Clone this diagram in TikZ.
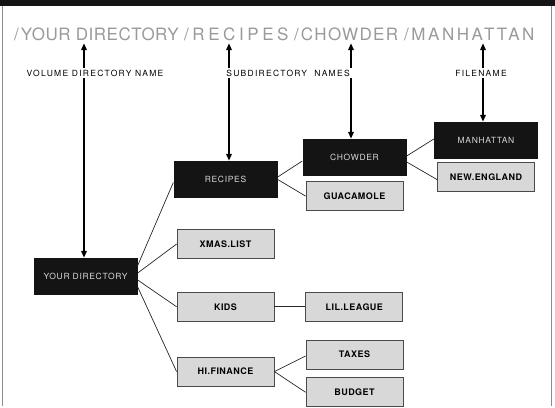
\documentclass[tikz,border=0pt]{standalone}
\usepackage{fontspec}
\setsansfont{TeX Gyre Heros}
\newfontfamily\heros{TeX Gyre Heros}
\usepackage{xcolor}
\definecolor{PanelBlack}{HTML}{141414}
\definecolor{FileGrey}{HTML}{D8D8D8}
\definecolor{EdgeGrey}{HTML}{4A4A4A}
\definecolor{TitleGrey}{HTML}{9A9A9A}
\usetikzlibrary{arrows.meta}
\usetikzlibrary{positioning}

\begin{document}
\begin{tikzpicture}[x=1pt, y=-1pt,
    font=\heros\fontsize{8.5}{10}\selectfont,
    dirbox/.style={shape=rectangle,
      fill=PanelBlack,
      text=white!85!black,
      minimum width=104pt,
      minimum height=37pt,
      inner sep=1pt,
      font=\heros\fontsize{8.5}{10}\selectfont\addfontfeature{LetterSpace=8}},
    filebox/.style={shape=rectangle,
      fill=FileGrey,
      draw=EdgeGrey,
      line width=0.8pt,
      minimum width=97pt,
      minimum height=29pt,
      inner sep=1pt,
      font=\heros\bfseries\fontsize{9}{10}\selectfont\addfontfeature{LetterSpace=5}},
    pathword/.style={anchor=base west,
      inner sep=0pt,
      text depth=0pt,
      text=TitleGrey,
      font=\heros\fontsize{17}{20}\selectfont\addfontfeature{LetterSpace=#1}},
    tag/.style={inner sep=2pt,
      text height=6pt,
      text depth=0pt,
      font=\heros\fontsize{8.5}{10}\selectfont\addfontfeature{LetterSpace=15}},
    pointer/.style={line width=1.9pt, -{Triangle[length=7pt,width=5.5pt]}},
    branch/.style={line width=0.7pt, draw=black!85}]

    % panel
    \fill[white] (0,0) rectangle (555,406);
    \fill[PanelBlack] (0,0) rectangle (555,6);
    \draw[black!45, line width=1pt] (2,6) -- (2,406);
    \draw[black!45, line width=1pt] (551,6) -- (551,406);

    % path name
    \node[name=t1, pathword=3, at={(14,40)}] {/\kern2pt YOUR DIRECTORY};
    \node[name=t2, pathword=21, at={(184,40)}] {/RECIPES};
    \node[name=t3, pathword=8, at={(294,40)}] {/\kern2pt CHOWDER};
    \node[name=t4, pathword=15, at={(404,40)}] {/MANHATTAN};

    \node[name=vollbl, tag, at={(95,73)}] {VOLUME DIRECTORY NAME};
    \node[name=sublbl, tag, at={(288,73)}] {SUBDIRECTORY\ \ NAMES};
    \node[name=filelbl, tag, at={(481,73)}] {FILENAME};

    % directories
    \node[name=yd, dirbox, at={(85.5,276.5)}] {YOUR DIRECTORY};
    \node[name=recipes, dirbox, at={(225.5,179.5)}] {RECIPES};
    \node[name=chowder, dirbox, at={(354.5,157.5)}] {CHOWDER};
    \node[name=manhattan, dirbox, at={(486,140.5)}] {MANHATTAN};

    % files
    \node[name=xmas, filebox, at={(225.5,244)}] {XMAS.LIST};
    \node[name=kids, filebox, below=33pt of xmas] {KIDS};
    \node[name=hifi, filebox, below=35pt of kids] {HI.FINANCE};
    \node[name=guac, filebox, below=5pt of chowder] {GUACAMOLE};
    \node[name=newengl, filebox, below=3pt of manhattan] {NEW.ENGLAND};
    \node[name=lilleague, filebox, right=31pt of kids] {LIL.LEAGUE};
    \node[name=taxes, filebox, at={(354.5,354.5)}] {TAXES};
    \node[name=budget, filebox, below=8pt of taxes] {BUDGET};

    \coordinate (ydx) at ([xshift=-1.5pt]yd.north);
    \coordinate (recx) at ([xshift=3.5pt]recipes.north);
    \coordinate (chwx) at ([xshift=-3.5pt]chowder.north);
    \coordinate (manx) at ([xshift=-3pt]manhattan.north);

    \path (vollbl.north -| ydx) edge[pointer, shorten >=3pt] (t1.south -| ydx);
    \path (vollbl.south -| ydx) edge[pointer] (ydx);
    \path (sublbl.north -| recx) edge[pointer, shorten >=3pt] (t2.south -| recx);
    \path (sublbl.south -| recx) edge[pointer] (recx);
    \path (sublbl.north -| chwx) edge[pointer, shorten >=3pt] (t3.south -| chwx);
    \path (sublbl.south -| chwx) edge[pointer] (chwx);
    \path (filelbl.north -| manx) edge[pointer, shorten >=3pt] (t4.south -| manx);
    \path (filelbl.south -| manx) edge[pointer] (manx);

    \path ([yshift=11pt]yd.east) edge[branch] ([yshift=-3pt]recipes.west);
    \path ([yshift=3.5pt]yd.east) edge[branch] (xmas.west);
    \path ([yshift=-3.5pt]yd.east) edge[branch] (kids.west);
    \path ([yshift=-10.5pt]yd.east) edge[branch] (hifi.west);
    \path ([yshift=2.5pt]recipes.east) edge[branch] ([yshift=-3.5pt]chowder.west);
    \path (recipes.east) edge[branch] (guac.west);
    \path ([yshift=1.5pt]chowder.east) edge[branch] ([yshift=1.5pt]manhattan.west);
    \path ([yshift=-4.5pt]chowder.east) edge[branch] ([yshift=-2.5pt]newengl.west);
    \path (kids) edge[branch] (lilleague);
    \path (hifi.east) edge[branch] ([yshift=-1.5pt]taxes.west);
    \path (hifi.east) edge[branch] (budget.west);

    \path [use as bounding box] (0,0) rectangle (555,406);
  \end{tikzpicture}
\end{document}
